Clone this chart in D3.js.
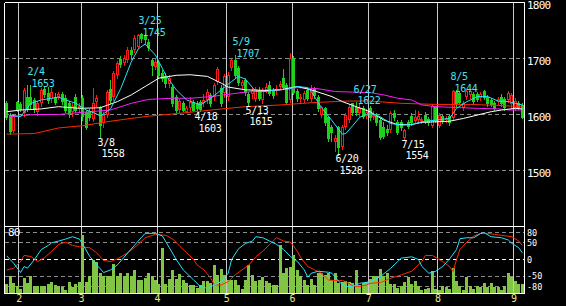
<!DOCTYPE html>
<html>
<head>
<meta charset="utf-8">
<script src="https://cdn.jsdelivr.net/npm/d3@7"></script>
<style>
html, body { margin: 0; padding: 0; background: #000; }
svg { display: block; }
text { font-family: "DejaVu Sans Mono", "Liberation Mono", monospace; font-size: 11px; letter-spacing: -0.8px; }
text.peak { font-size: 10px; letter-spacing: -0.3px; }
text.osc { font-size: 8.5px; letter-spacing: 0px; }
</style>
</head>
<body>
<div id="chart"></div>
<script>
// trading days shown on the chart
var dates = [
  "1/26","1/27","1/28","1/29",
  "2/1","2/2","2/3","2/4","2/5","2/8","2/9","2/10","2/12","2/15","2/16","2/17","2/18","2/19","2/22","2/23","2/24","2/25",
  "3/1","3/2","3/3","3/4","3/7","3/8","3/9","3/10","3/11","3/14","3/15","3/16","3/17","3/18","3/22","3/23","3/24","3/25","3/28","3/29","3/30","3/31",
  "4/1","4/4","4/5","4/6","4/7","4/8","4/11","4/12","4/13","4/14","4/15","4/18","4/19","4/20","4/21","4/22","4/25","4/26","4/27","4/28",
  "5/2","5/6","5/9","5/10","5/11","5/12","5/13","5/16","5/17","5/18","5/19","5/20","5/23","5/24","5/25","5/26","5/27","5/30","5/31",
  "6/1","6/2","6/3","6/6","6/7","6/8","6/9","6/10","6/13","6/14","6/15","6/16","6/17","6/20","6/21","6/22","6/23","6/24","6/27","6/28","6/29","6/30",
  "7/1","7/4","7/5","7/6","7/7","7/8","7/11","7/12","7/13","7/14","7/15","7/19","7/20","7/21","7/22","7/25","7/26","7/27","7/28","7/29",
  "8/1","8/2","8/3","8/4","8/5","8/8","8/9","8/10","8/12","8/15","8/16","8/17","8/18","8/19","8/22","8/23","8/24","8/25","8/26","8/29","8/30","8/31",
  "9/1","9/2","9/5"
];

// open, high, low, close
var candles = [
  [1620,1624,1592,1596],[1599,1602,1566,1570],[1571,1600,1568,1598],[1622,1624,1606,1610],
  [1618,1622,1606,1610],[1602,1648,1598,1644],[1631,1652,1606,1610],[1632,1653,1612,1618],[1626,1630,1605,1610],
  [1605,1624,1600,1620],[1620,1648,1616,1644],[1645,1650,1632,1636],[1638,1650,1620,1626],[1628,1648,1622,1640],
  [1632,1638,1618,1622],[1632,1640,1628,1637],[1636,1640,1618,1624],[1630,1634,1604,1608],[1620,1624,1596,1602],
  [1604,1620,1598,1616],[1632,1636,1604,1608],[1612,1620,1604,1616],
  [1630,1634,1590,1598],[1605,1608,1575,1578],[1606,1610,1590,1596],[1592,1648,1588,1620],[1622,1634,1616,1630],
  [1613,1616,1558,1581],[1585,1604,1578,1600],[1599,1644,1595,1640],[1645,1662,1620,1626],[1631,1678,1626,1674],
  [1670,1696,1666,1692],[1700,1704,1684,1690],[1692,1706,1688,1701],[1697,1720,1694,1715],[1716,1720,1700,1708],
  [1715,1742,1712,1736],[1721,1744,1718,1742],[1744,1745,1730,1736],[1742,1743,1728,1734],[1730,1734,1716,1720],
  [1697,1700,1670,1688],[1685,1700,1682,1694],
  [1692,1696,1666,1670],[1675,1680,1660,1665],[1668,1674,1650,1656],[1655,1670,1650,1665],[1649,1652,1616,1620],
  [1631,1634,1604,1608],[1608,1628,1604,1625],[1620,1624,1606,1608],[1605,1616,1604,1611],[1612,1632,1606,1622],
  [1622,1626,1606,1608],[1620,1624,1603,1612],[1622,1626,1606,1610],[1620,1636,1616,1626],[1626,1646,1620,1640],
  [1634,1638,1616,1620],[1631,1656,1626,1652],[1658,1684,1654,1681],[1648,1652,1616,1620],[1638,1672,1632,1668],
  [1631,1676,1626,1670],[1683,1700,1680,1697],[1697,1707,1666,1670],[1683,1686,1652,1658],[1651,1662,1646,1658],
  [1662,1666,1634,1640],[1636,1640,1615,1622],[1636,1648,1630,1643],[1628,1650,1624,1645],[1644,1650,1626,1630],
  [1626,1648,1620,1644],[1644,1656,1640,1650],[1652,1660,1634,1638],[1644,1648,1630,1634],[1642,1652,1636,1646],
  [1650,1660,1646,1655],[1665,1682,1646,1650],[1652,1656,1618,1622],[1626,1710,1622,1701],
  [1701,1705,1636,1640],[1642,1646,1625,1630],[1628,1636,1622,1632],[1626,1642,1622,1638],[1644,1648,1626,1630],
  [1628,1652,1624,1644],[1646,1650,1630,1635],[1631,1634,1606,1611],[1599,1616,1595,1613],[1611,1614,1582,1586],
  [1595,1598,1552,1558],[1578,1582,1553,1569],[1551,1563,1534,1558],[1577,1580,1528,1542],[1542,1582,1538,1578],
  [1578,1602,1574,1599],[1590,1618,1586,1613],[1620,1621,1600,1605],[1614,1622,1600,1604],[1602,1618,1598,1612],
  [1612,1616,1594,1598],[1598,1610,1594,1604],
  [1611,1615,1590,1595],[1596,1606,1592,1600],[1598,1602,1582,1586],[1590,1593,1556,1560],[1577,1586,1558,1562],
  [1575,1582,1564,1568],[1572,1606,1568,1602],[1602,1608,1590,1596],[1586,1590,1565,1569],[1586,1590,1572,1578],
  [1558,1575,1554,1572],[1587,1590,1576,1580],[1598,1602,1582,1586],[1588,1608,1584,1596],[1590,1606,1586,1598],
  [1589,1596,1584,1592],[1600,1604,1584,1588],[1592,1596,1582,1586],[1580,1618,1578,1615],[1613,1616,1586,1590],
  [1580,1602,1578,1599],[1597,1600,1584,1588],[1590,1598,1586,1594],[1597,1600,1582,1586],[1594,1644,1590,1642],
  [1640,1643,1616,1620],[1638,1642,1618,1622],[1611,1624,1608,1620],[1631,1643,1628,1642],[1634,1643,1630,1642],
  [1636,1640,1620,1625],[1636,1640,1624,1628],[1630,1640,1626,1636],[1642,1643,1628,1632],[1631,1634,1616,1620],
  [1626,1630,1615,1619],[1620,1624,1608,1612],[1622,1632,1618,1628],[1632,1636,1616,1620],[1628,1632,1608,1613],
  [1626,1642,1622,1638],[1618,1638,1612,1634],
  [1612,1630,1608,1624],[1620,1624,1610,1614],[1617,1620,1594,1596]
];

// volume, thousand shares
var volumes = [
  87,170,100,73,
  40,153,100,170,73,70,67,70,87,110,83,70,63,30,110,63,93,110,
  580,110,170,330,310,197,170,170,170,290,170,197,170,197,170,230,130,130,153,197,170,130,
  87,447,87,137,230,137,190,130,103,80,80,47,80,120,120,97,280,180,237,180,
  130,130,130,80,37,130,280,180,120,130,163,120,97,80,80,480,197,247,263,
  380,230,170,130,80,137,80,197,203,180,203,130,197,97,113,120,113,97,230,80,97,113,
  137,170,170,240,170,197,93,93,47,70,113,157,93,123,70,30,37,47,220,37,
  30,70,57,37,247,123,70,30,163,70,37,70,63,97,57,97,57,57,30,70,197,163,
  123,93,93
];

// moving averages: [day index, price]
var maShort = [[1,1599],[4,1596],[7,1620],[10,1626],[13,1629],[15,1631],[17,1626],[20,1620],[23,1608],[26,1601],
  [27,1597],[30,1610],[33,1647],[36,1694],[38,1717],[40,1726],[43,1706],[46,1670],[49,1644],[52,1626],[56,1617],
  [59,1629],[62,1644],[65,1659],[67,1668],[69,1663],[72,1641],[75,1641],[78,1644],[81,1645],[84,1650],[87,1648],
  [88,1641],[91,1612],[94,1589],[97,1565],[98,1566],[100,1580],[102,1595],[105,1603],[108,1596],[111,1584],
  [114,1581],[117,1582],[120,1587],[124,1590],[128,1593],[130,1611],[133,1623],[136,1632],[139,1632],[142,1624],
  [145,1623],[149,1617]];
var maMid = [[0,1605],[4,1608],[10,1610],[15,1614],[21,1611],[27,1612],[32,1623],[36,1635],[40,1650],[44,1665],
  [49,1670],[53,1671],[58,1668],[62,1656],[64,1649],[69,1644],[75,1643],[79,1644],[84,1650],[88,1644],[94,1632],
  [97,1623],[101,1614],[105,1605],[109,1590],[113,1582],[117,1582],[120,1586],[128,1588],[132,1593],[136,1599],
  [140,1605],[143,1608],[147,1611],[149,1610]];
var maLong = [[1,1596],[8,1600],[15,1600],[22,1604],[30,1608],[36,1620],[41,1627],[48,1629],[53,1629],[59,1632],
  [69,1640],[79,1644],[84,1648],[90,1646],[95,1641],[100,1640],[105,1639],[109,1635],[113,1629],[117,1626],
  [120,1617],[124,1614],[132,1612],[136,1611],[142,1610],[145,1608],[149,1608]];
var maLonger = [[0,1565],[8,1566],[15,1576],[22,1580],[30,1588],[36,1593],[41,1597],[48,1601],[53,1604],[59,1608],
  [69,1614],[79,1617],[88,1621],[98,1624],[105,1624],[114,1620],[124,1618],[134,1618],[143,1616],[149,1614]];

// oscillators in the lower panel: [day index, value]
var oscFast = [[0,11],[2,-11],[4,-39],[5,-21],[6,-26],[8,0],[10,30],[12,42],[13,50],[15,55],[17,61],[19,68],
  [21,61],[22,45],[24,9],[26,-16],[28,-39],[30,-31],[32,-16],[35,20],[38,55],[40,78],[43,78],[45,70],[47,35],
  [49,0],[51,-31],[53,-51],[54,-61],[56,-81],[58,-86],[60,-76],[62,-66],[64,-41],[65,0],[67,32],[69,48],[71,55],
  [72,68],[74,65],[76,55],[78,45],[80,30],[82,9],[84,-6],[86,-31],[87,-53],[88,-41],[90,-35],[93,-38],[94,-41],
  [96,-66],[98,-81],[100,-81],[102,-71],[104,-68],[105,-66],[108,-51],[111,-26],[113,-6],[114,4],[117,8],[119,0],
  [120,-21],[122,-41],[124,-35],[126,-21],[128,2],[130,30],[131,62],[133,65],[135,65],[137,78],[138,80],[140,68],
  [143,65],[145,58],[146,48],[148,35],[149,20]];
var oscSlow = [[0,-31],[2,-26],[4,-6],[5,12],[7,9],[9,-6],[11,6],[13,25],[15,45],[17,52],[19,42],[21,38],[24,35],
  [26,20],[28,-3],[30,-6],[32,2],[35,20],[38,45],[40,65],[43,75],[46,72],[48,61],[50,40],[52,20],[54,0],[55,-16],
  [57,-31],[59,-56],[60,-76],[62,-76],[64,-66],[66,-46],[68,-31],[70,-16],[72,8],[74,25],[76,45],[78,65],[80,55],
  [82,52],[84,25],[85,5],[87,-21],[89,-31],[91,-41],[93,-61],[95,-63],[97,-63],[98,-66],[100,-79],[102,-81],
  [104,-76],[105,-71],[108,-69],[111,-56],[114,-46],[117,-35],[120,-6],[121,12],[123,12],[126,-6],[128,-21],
  [129,-36],[130,0],[131,30],[133,52],[135,70],[137,78],[139,78],[141,75],[143,72],[146,68],[148,55],[149,42]];

var monthStarts = ["2/1","3/1","4/1","5/2","6/1","7/1","8/1","9/1"];
var monthLabels = ["2","3","4","5","6","7","8","9"];
var priceTicks = [1800, 1700, 1600, 1500];
var oscTicks = [80, 50, 0, -50, -80];

// marked highs and lows
var peakDates = ["2/4","3/8","3/25","4/18","5/9","5/13","6/20","6/27","7/15","8/5"];
var peakKinds = ["high","low","high","low","high","low","low","high","low","high"];

const width = 566;
const height = 306;
const left = 5, right = 524;

var svg = d3.select("#chart").append("svg")
    .attr("width", width)
    .attr("height", height)
    .style("background", "#000");

var x = d3.scaleBand().domain(dates).range([left, right]).padding(0);
var bw = x.bandwidth();
var y = d3.scaleLinear().domain([1400, 1800]).range([226.5, 2.5]);
var yOsc = d3.scaleLinear().domain([-100, 100]).range([293, 226]);
var yVol = d3.scaleLinear().domain([0, 670]).range([293, 226]);

function px(d) { return Math.floor(x(d) + bw / 2); }
function crisp(v) { return Math.round(v - 0.5) + 0.5; }

// horizontal grid, main panel
svg.append("g").selectAll("line")
    .data(priceTicks.filter(function(t) { return t < 1800; }))
    .enter().append("line")
    .attr("x1", left).attr("x2", right)
    .attr("y1", function(d) { return crisp(y(d)); })
    .attr("y2", function(d) { return crisp(y(d)); })
    .attr("stroke", "#8a8a8a")
    .attr("stroke-dasharray", "4,3")
    .attr("shape-rendering", "crispEdges");

// horizontal grid, lower panel
svg.append("g").selectAll("line")
    .data(oscTicks)
    .enter().append("line")
    .attr("x1", left).attr("x2", right)
    .attr("y1", function(d) { return crisp(yOsc(d)); })
    .attr("y2", function(d) { return crisp(yOsc(d)); })
    .attr("stroke", function(d) { return d == 0 ? "#ffffff" : "#8a8a8a"; })
    .attr("stroke-dasharray", "4,3")
    .attr("shape-rendering", "crispEdges");

// month lines
svg.append("g").selectAll("line")
    .data(monthStarts)
    .enter().append("line")
    .attr("x1", function(d) { return crisp(x(d)); })
    .attr("x2", function(d) { return crisp(x(d)); })
    .attr("y1", 2.5).attr("y2", 293)
    .attr("stroke", "#c8c8c8")
    .attr("shape-rendering", "crispEdges");

// volume bars
svg.append("g").selectAll("rect")
    .data(volumes)
    .enter().append("rect")
    .attr("x", function(d, i) { return px(dates[i]) - 1; })
    .attr("width", 3)
    .attr("y", function(d) { return Math.round(yVol(d)); })
    .attr("height", function(d) { return 293 - Math.round(yVol(d)); })
    .attr("fill", "#82c443")
    .attr("shape-rendering", "crispEdges");

// oscillator lines
var oscLine = d3.line()
    .x(function(p) { return x(dates[p[0]]) + bw / 2; })
    .y(function(p) { return yOsc(p[1]); });
svg.append("path").attr("d", oscLine(oscSlow))
    .attr("fill", "none").attr("stroke", "#ff2a00").attr("stroke-width", 1);
svg.append("path").attr("d", oscLine(oscFast))
    .attr("fill", "none").attr("stroke", "#22e4ff").attr("stroke-width", 1);

// candles
var candle = svg.append("g").selectAll("g")
    .data(candles)
    .enter().append("g");

candle.append("line")
    .attr("x1", function(d, i) { return px(dates[i]) + 0.5; })
    .attr("x2", function(d, i) { return px(dates[i]) + 0.5; })
    .attr("y1", function(d) { return Math.round(y(d[1])); })
    .attr("y2", function(d) { return Math.round(y(d[2])) + 1; })
    .attr("stroke", function(d) { return d[3] >= d[0] ? "#ff1a1a" : "#1fd01f"; })
    .attr("shape-rendering", "crispEdges");

candle.append("rect")
    .attr("x", function(d, i) { return d[3] >= d[0] ? px(dates[i]) - 0.5 : px(dates[i]) - 1; })
    .attr("width", function(d) { return d[3] >= d[0] ? 2 : 3; })
    .attr("y", function(d) {
        var t = Math.round(y(Math.max(d[0], d[3])));
        return d[3] >= d[0] ? t + 0.5 : t;
    })
    .attr("height", function(d) {
        var h = Math.max(1, Math.round(y(Math.min(d[0], d[3]))) - Math.round(y(Math.max(d[0], d[3]))));
        return d[3] >= d[0] ? Math.max(1, h - 1) : h + 1;
    })
    .attr("fill", function(d) { return d[3] >= d[0] ? "#000" : "#1fd01f"; })
    .attr("stroke", function(d) { return d[3] >= d[0] ? "#ff1a1a" : "none"; })
    .attr("shape-rendering", "crispEdges");

// moving averages
var maLine = d3.line()
    .x(function(p) { return x(dates[p[0]]) + bw / 2; })
    .y(function(p) { return y(p[1]); });
svg.append("path").attr("d", maLine(maLonger)).attr("fill", "none").attr("stroke", "#ff2a00");
svg.append("path").attr("d", maLine(maLong)).attr("fill", "none").attr("stroke", "#ff1aff");
svg.append("path").attr("d", maLine(maMid)).attr("fill", "none").attr("stroke", "#ffffff");
svg.append("path").attr("d", maLine(maShort)).attr("fill", "none").attr("stroke", "#22e4ff");

// high / low labels: date on one line, price below it
peakDates.forEach(function(d, k) {
    var i = dates.indexOf(d);
    var c = px(d);
    var isHigh = peakKinds[k] == "high";
    var v = isHigh ? candles[i][1] : candles[i][2];
    var py = y(v);
    var col = isHigh ? "#48e2f2" : "#ffffff";
    svg.append("text").attr("class", "peak").attr("fill", col)
        .attr("x", c - 2.5).attr("y", isHigh ? py - 9.5 : py + 7.5).text(d);
    svg.append("text").attr("class", "peak").attr("fill", col)
        .attr("x", c + 1.5).attr("y", isHigh ? py + 2.2 : py + 19.2).text(v);
});

// panel frames
var frame = svg.append("g").attr("stroke", "#ffffff").attr("shape-rendering", "crispEdges");
frame.append("line").attr("x1", 4.5).attr("x2", 4.5).attr("y1", 2.5).attr("y2", 293.5);
frame.append("line").attr("x1", 524.5).attr("x2", 524.5).attr("y1", 2.5).attr("y2", 293.5);
frame.append("line").attr("x1", 4.5).attr("x2", 524.5).attr("y1", 2.5).attr("y2", 2.5);
frame.append("line").attr("x1", 4.5).attr("x2", 524.5).attr("y1", 226.5).attr("y2", 226.5);
frame.append("line").attr("x1", 4.5).attr("x2", 524.5).attr("y1", 293.5).attr("y2", 293.5);

// right axis labels
svg.append("g").selectAll("text")
    .data(priceTicks)
    .enter().append("text")
    .attr("x", 527)
    .attr("y", function(d) { return y(d) + 6; })
    .attr("fill", "#ffffff")
    .text(function(d) { return d; });

svg.append("g").selectAll("text")
    .data(oscTicks)
    .enter().append("text")
    .attr("class", "osc")
    .attr("x", 527)
    .attr("y", function(d) { return yOsc(d) + 3.2; })
    .attr("fill", "#ffffff")
    .text(function(d) { return d; });

svg.append("text").attr("x", 8).attr("y", 236).attr("fill", "#ffffff").text(oscTicks[0]);

// month labels
svg.append("g").selectAll("text")
    .data(monthStarts)
    .enter().append("text")
    .attr("x", function(d) { return x(d); })
    .attr("y", 302)
    .attr("text-anchor", "middle")
    .attr("fill", "#f0e68c")
    .style("font-size", "10px")
    .text(function(d, i) { return monthLabels[i]; });
</script>
</body>
</html>
